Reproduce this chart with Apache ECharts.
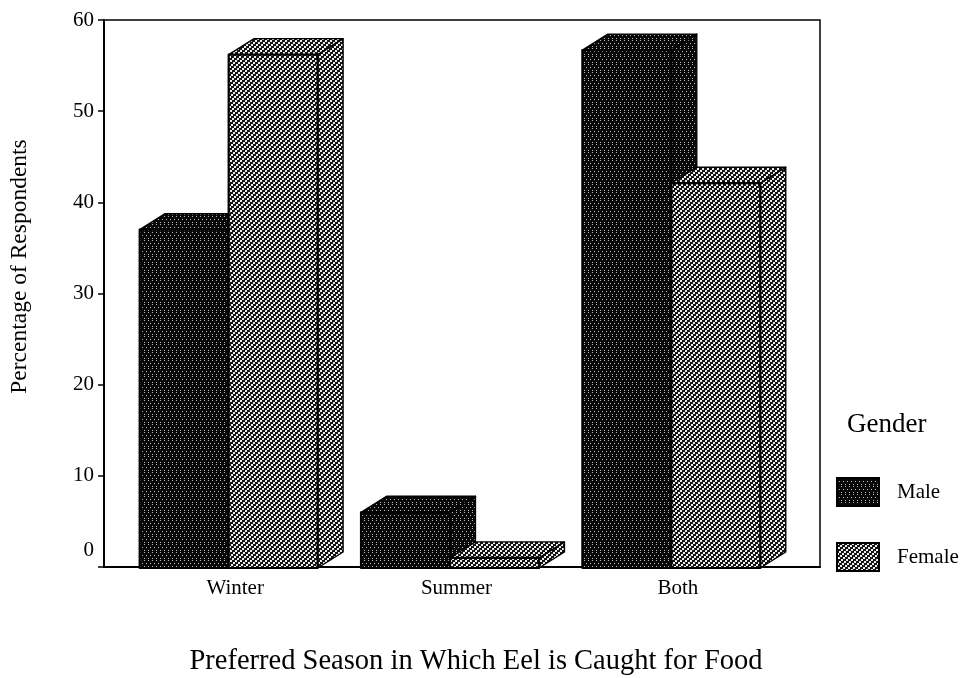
<!DOCTYPE html>
<html><head><meta charset="utf-8">
<style>html,body{margin:0;padding:0;background:#fff}#c{width:973px;height:678px}</style>
<script src="https://cdn.jsdelivr.net/npm/echarts@6/dist/echarts.min.js"></script>
</head><body><div id="c"></div>
<script>
const categories = ['Winter', 'Summer', 'Both'];
const maleValues = [37, 6, 56.7];
const femaleValues = [56.2, 1, 42.1];
const yTicks = [0, 10, 20, 30, 40, 50, 60];

function tile(size, bg, fg, cells) {
  const cv = document.createElement('canvas');
  cv.width = cv.height = size;
  const x = cv.getContext('2d');
  x.fillStyle = bg; x.fillRect(0, 0, size, size);
  x.fillStyle = fg;
  cells.forEach(p => x.fillRect(p[0], p[1], 1, 1));
  return { image: cv, repeat: 'repeat' };
}
const malePattern = tile(8, '#080808', '#b8b8b8', [[0, 0], [4, 0], [2, 3], [6, 3], [0, 6], [4, 6]]);
const femaleCells = [];
for (let a = 0; a < 10; a++) {
  for (let b = 0; b < 10; b++) {
    const px = (3 * a - 2 * b + 100) % 10, py = (2 * a + 2 * b) % 10;
    [[0, 0], [1, 0], [0, 1], [1, 1]].forEach(d => femaleCells.push([(px + d[0]) % 10, (py + d[1]) % 10]));
  }
}
const femalePattern = tile(10, '#141414', '#eeeeee', femaleCells);

function bar3d(side, pattern) {
  return function (params, api) {
    const i = api.value(0), v = api.value(1);
    const top = api.coord([i, v]);
    const base = api.coord([i, 0]);
    const band = api.size([1, 0])[0];
    const w = band * 0.402;
    const dx = band * 0.115, dy = 16;
    const x0 = top[0] + (side < 0 ? -w : 0), x1 = x0 + w;
    const y0 = top[1], y1 = base[1] + 1;
    const st = { fill: pattern, stroke: '#000', lineWidth: 1.4, lineJoin: 'round' };
    const front = { fill: pattern, stroke: '#000', lineWidth: 2.2, lineJoin: 'round' };
    return { type: 'group', children: [
      { type: 'polygon', shape: { points: [[x1, y0], [x1 + dx, y0 - dy], [x1 + dx, y1 - dy], [x1, y1]] }, style: st },
      { type: 'polygon', shape: { points: [[x0, y0], [x0 + dx, y0 - dy], [x1 + dx, y0 - dy], [x1, y0]] }, style: st },
      { type: 'rect', shape: { x: x0, y: y0, width: w, height: y1 - y0 }, style: front }
    ] };
  };
}
const serif = '"Liberation Serif","Times New Roman",serif';
const chart = echarts.init(document.getElementById('c'));
chart.setOption({
  animation: false,
  backgroundColor: '#fff',
  textStyle: { fontFamily: serif, color: '#000' },
  title: [
    { text: 'Preferred Season in Which Eel is Caught for Food', left: 471, top: 642, textAlign: 'center',
      textStyle: { fontFamily: serif, fontSize: 28.5, fontWeight: 'normal', color: '#000' } },
    { text: 'Gender', left: 842, top: 406,
      textStyle: { fontFamily: serif, fontSize: 27, fontWeight: 'normal', color: '#000' } }
  ],
  legend: {
    orient: 'vertical', left: 831, top: 472, itemWidth: 42, itemHeight: 28, itemGap: 35,
    icon: 'rect', selectedMode: false,
    textStyle: { fontFamily: serif, fontSize: 21, color: '#000', padding: [0, 0, 0, 13] },
    data: ['Male', 'Female']
  },
  grid: [
    { left: 104, top: 20, width: 716, height: 547, show: true, borderColor: '#000', borderWidth: 1.5, backgroundColor: '#fff', outerBoundsMode: 'none' },
    { left: 118, top: 20, width: 664, height: 547, outerBoundsMode: 'none' }
  ],
  xAxis: [
    { type: 'value', gridIndex: 0, min: 0, max: 1, axisLabel: { show: false }, axisTick: { show: false }, splitLine: { show: false },
      axisLine: { show: true, lineStyle: { color: '#000', width: 2 } } },
    { type: 'category', gridIndex: 1, data: categories, axisLine: { show: false },
      axisTick: { show: false },
      axisLabel: { fontFamily: serif, fontSize: 21, color: '#000', margin: 11, padding: [0, 0, 0, 13] } }
  ],
  yAxis: [
    { type: 'value', gridIndex: 0, min: 0, max: 60, interval: 10, splitLine: { show: false },
      axisLine: { show: true, lineStyle: { color: '#000', width: 2 } },
      axisTick: { show: true, length: 6, lineStyle: { color: '#000', width: 1.5 } },
      axisLabel: { fontFamily: serif, fontSize: 21, color: '#000', margin: 10,
        customValues: yTicks,
        formatter: v => v === 0 ? '{z|0}' : String(v),
        rich: { z: { fontFamily: serif, fontSize: 21, color: '#000', padding: [0, 0, 34, 0] } } },
      name: 'Percentage of Respondents', nameLocation: 'middle', nameGap: 72,
      nameTextStyle: { fontFamily: serif, fontSize: 23.5, color: '#000', padding: [0, 0, 0, 54] } },
    { type: 'value', gridIndex: 1, min: 0, max: 60, show: false }
  ],
  series: [
    { name: 'Male', type: 'custom', xAxisIndex: 1, yAxisIndex: 1, clip: false, renderItem: bar3d(-1, malePattern),
      itemStyle: { color: malePattern, borderColor: '#000', borderWidth: 1.5 },
      encode: { x: 0, y: 1 }, data: maleValues.map((v, i) => [i, v]) },
    { name: 'Female', type: 'custom', xAxisIndex: 1, yAxisIndex: 1, clip: false, renderItem: bar3d(1, femalePattern),
      itemStyle: { color: femalePattern, borderColor: '#000', borderWidth: 1.5 },
      encode: { x: 0, y: 1 }, data: femaleValues.map((v, i) => [i, v]) }
  ]
});
</script></body></html>
